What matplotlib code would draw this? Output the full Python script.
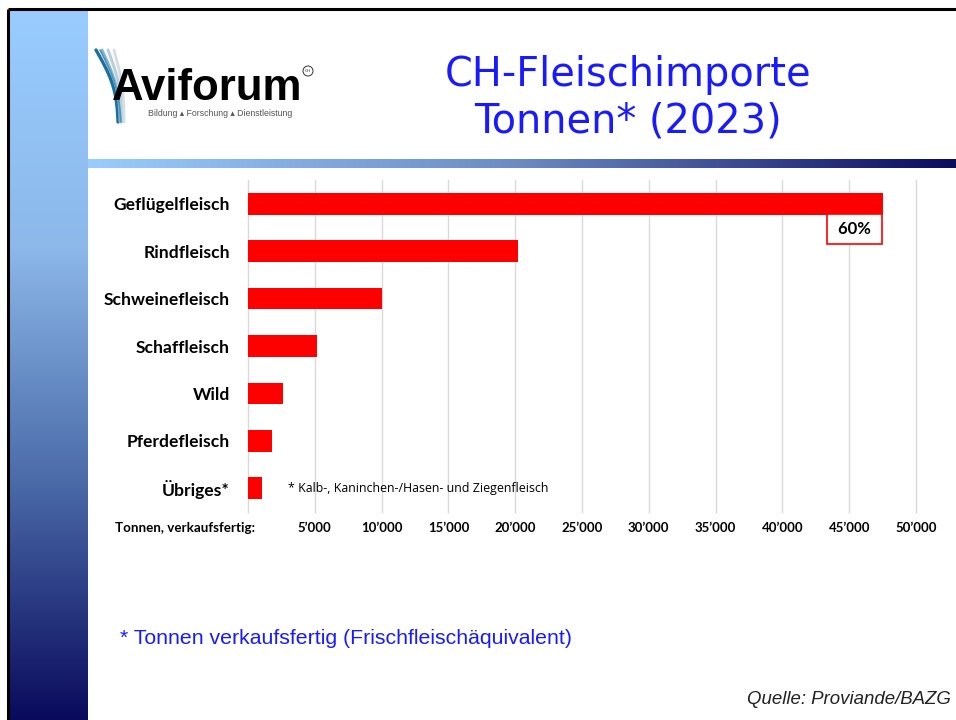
import numpy as np
import matplotlib
matplotlib.use("Agg")
import matplotlib.pyplot as plt
from matplotlib.colors import LinearSegmentedColormap
from matplotlib.ticker import FuncFormatter, MultipleLocator

# data
categories = ["Geflügelfleisch", "Rindfleisch", "Schweinefleisch", "Schaffleisch",
              "Wild", "Pferdefleisch", "Übriges*"]
tonnes = [47500, 20200, 10000, 5200, 2600, 1800, 1050]
share_label = " 60% "
other_note = "* Kalb-, Kaninchen-/Hasen- und Ziegenfleisch"
tick_step = 5000
x_max = 50000

W, H = 956, 720
LABEL_FONT = "Lato"
ARIAL = "Liberation Sans"

fig = plt.figure(figsize=(W / 100, H / 100), dpi=100)

# ---- slide background (pixel coordinates) ----
bg = fig.add_axes([0, 0, 1, 1], zorder=0)
bg.axis("off")
strip_cm = LinearSegmentedColormap.from_list("strip", ["#99ccff", "#8cb8ea", "#4a6aa8", "#0a0a5c"])
band_cm = LinearSegmentedColormap.from_list("band", ["#99ccff", "#6a8ac2", "#0b0b60"])
bg.imshow(np.linspace(0, 1, 256).reshape(-1, 1), cmap=strip_cm,
          extent=(10, 88, H, 10), aspect="auto")
bg.imshow(np.linspace(0, 1, 256).reshape(1, -1), cmap=band_cm,
          extent=(88, W, 168, 159), aspect="auto")
bg.plot([8.5, 8.5], [8.5, H], color="black", lw=2.2, solid_capstyle="butt")
bg.plot([8.5, W], [8.5, 8.5], color="black", lw=2.2, solid_capstyle="butt")

# logo: feather strokes + wordmark
t = np.linspace(0, 1, 30)
for x0, x1, bend, col, lw in [(118, 96, 6, "#1f6f9e", 2.4), (120, 102, 5, "#7fb3cf", 2.0),
                              (122, 108, 4, "#b9cfdc", 2.2), (124, 114, 3, "#d3dde4", 2.0),
                              (121, 100, 5, "#4c95bd", 1.2)]:
    xs = x0 + (x1 - x0) * t + bend * np.sin(np.pi * t)
    ys = 122 - 72 * t
    bg.plot(xs, ys, color=col, lw=lw, solid_capstyle="round")
bg.text(112, 100, "Aviforum", fontsize=31.5, fontweight="bold", family=ARIAL,
        color="black", ha="left", va="baseline")
bg.add_patch(plt.Circle((308, 71), 5, fill=False, ec="#333333", lw=0.7))
bg.text(308, 71, "CH", fontsize=3.2, ha="center", va="center", color="#333333")
bg.text(148, 113, "Bildung ▴ Forschung ▴ Dienstleistung", fontsize=6.3,
        family=[ARIAL, "DejaVu Sans"], color="#555555", ha="left", va="center")

# title
bg.text(628, 98, "CH-Fleischimporte\nTonnen* (2023)", fontsize=28.7, color="#1a1aff",
        ha="center", va="center", linespacing=1.2, family="DejaVu Sans")

# footnotes
bg.text(120, 638, "* Tonnen verkaufsfertig (Frischfleischäquivalent)", fontsize=15.3,
        family=ARIAL, color="#1a1aff", ha="left", va="center")
bg.text(951, 699, "Quelle: Proviande/BAZG", fontsize=13.4, family=ARIAL,
        style="italic", color="#222222", ha="right", va="center")
bg.text(115, 528, "Tonnen, verkaufsfertig:", fontsize=9.6, family=LABEL_FONT,
        fontweight="bold", ha="left", va="center")

bg.set_xlim(0, W)
bg.set_ylim(H, 0)

# ---- bar chart ----
ax = fig.add_axes([248 / W, 1 - 512 / H, 668 / W, 332 / H], zorder=2)
ax.patch.set_alpha(0)
ypos = np.arange(len(categories))
ax.barh(ypos, tonnes, height=0.46, color="#ff0000", zorder=3)
ax.set_ylim(len(categories) - 0.5, -0.5)
ax.set_xlim(0, x_max)
ax.set_yticks(ypos)
ax.set_yticklabels(categories, fontsize=12.6, fontweight="bold", family=LABEL_FONT)
ax.xaxis.set_major_locator(MultipleLocator(tick_step))
ax.xaxis.set_major_formatter(FuncFormatter(
    lambda v, p: "" if v == 0 else f"{int(v):,}".replace(",", "’")))
for lab in ax.get_xticklabels():
    lab.set_fontweight("bold")
    lab.set_family(LABEL_FONT)
ax.tick_params(axis="x", length=0, pad=7, labelsize=9.5)
ax.tick_params(axis="y", length=0, pad=13)
ax.grid(True, axis="x", color="#d9d9d9", lw=1.0, zorder=0)
for gl in ax.get_xgridlines():
    gl.set_clip_on(False)
for s in ax.spines.values():
    s.set_visible(False)

# share box under the biggest bar
ax.annotate(share_label, xy=(tonnes[0], 0.23), xytext=(-5.5, -4.8), textcoords="offset points",
            ha="right", va="top", fontsize=12, fontweight="bold", family=LABEL_FONT,
            bbox=dict(boxstyle="square,pad=0.42", fc="white", ec="#ff0000", lw=1.2), zorder=4)
ax.annotate(other_note, xy=(tonnes[-1], len(categories) - 1), xytext=(19, 0),
            textcoords="offset points", ha="left", va="center", fontsize=8.9, family="Open Sans")

fig.savefig("out.png", dpi=100)
